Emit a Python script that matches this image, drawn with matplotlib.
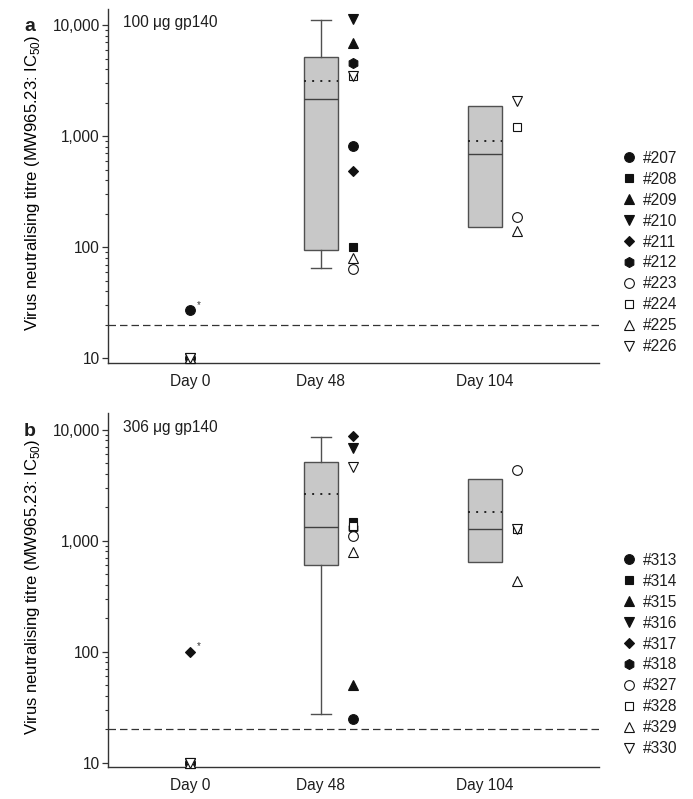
import numpy as np
import matplotlib.pyplot as plt
from matplotlib.ticker import FixedLocator, FuncFormatter, LogLocator, NullFormatter

plt.rcParams['font.family'] = 'Liberation Sans'
plt.rcParams['mathtext.fontset'] = 'custom'
plt.rcParams['mathtext.rm'] = 'Liberation Sans'
plt.rcParams['text.color'] = '#1e1e1e'
plt.rcParams['ytick.labelcolor'] = '#1e1e1e'
plt.rcParams['xtick.labelcolor'] = '#1e1e1e'

nan = np.nan

days = ["Day 0", "Day 48", "Day 104"]
detection_limit = 20

# panel a: 100 ug gp140
ids_a = ["#207", "#208", "#209", "#210", "#211", "#212", "#223", "#224", "#225", "#226"]
day0_a = [27, 10, 10, 10, 10, 10, 10, 10, 10, 10]
day48_a = [815, 100, 6980, 11500, 485, 4580, 64, 3500, 80, 3480]
day104_a = [nan, nan, nan, nan, nan, nan, 186, 1200, 140, 2080]

# panel b: 306 ug gp140
ids_b = ["#313", "#314", "#315", "#316", "#317", "#318", "#327", "#328", "#329", "#330"]
day0_b = [10, 10, 10, 10, 100, 10, 10, 10, 10, 10]
day48_b = [24.8, 1470, 50, 6790, 8710, 1290, 1100, 1340, 787, 4580]
day104_b = [nan, nan, nan, nan, nan, nan, 4340, 1260, 431, 1260]

markers = ['o', 's', '^', 'v', 'D', 'h', 'o', 's', '^', 'v']
filled = [True] * 6 + [False] * 4
msize = {'o': 7.0, 's': 6.2, '^': 7.0, 'v': 7.0, 'D': 5.3, 'h': 7.2}

XPOS = [1, 2, 3.25]
PT_OFF = 0.245
BOX_W = 0.26
FS = 11.2


def draw_panel(ax, ids, cols, title, letter, legend_y):
    # boxes for the post-immunisation days
    for i in (1, 2):
        v = np.array(cols[i], dtype=float)
        v = v[~np.isnan(v)]
        p10, q1, med, q3, p90 = np.percentile(v, [10, 25, 50, 75, 90], method='weibull')
        whisk = len(v) >= 9
        st = dict(med=med, q1=q1, q3=q3, mean=v.mean(), fliers=[],
                  whislo=p10 if whisk else q1, whishi=p90 if whisk else q3)
        ax.bxp([st], positions=[XPOS[i]], widths=BOX_W, showmeans=True, meanline=True,
               patch_artist=True, showcaps=whisk, capwidths=0.155, manage_ticks=False,
               boxprops=dict(facecolor='#c8c8c8', edgecolor='#505050', linewidth=1.0),
               medianprops=dict(color='#404040', linewidth=1.0),
               meanprops=dict(color='#222222', linestyle=(0, (1, 3.2)), linewidth=1.4),
               whiskerprops=dict(color='#505050', linewidth=1.0),
               capprops=dict(color='#505050', linewidth=1.0))

    xs = [XPOS[0], XPOS[1] + PT_OFF, XPOS[2] + PT_OFF]
    for k, name in enumerate(ids):
        ys = [cols[0][k], cols[1][k], cols[2][k]]
        m = markers[k]
        ax.plot(xs, ys, linestyle='none', marker=m, markersize=msize[m],
                markerfacecolor='#111111' if filled[k] else 'white',
                markeredgecolor='#111111', markeredgewidth=0.8,
                label=name, zorder=4 if filled[k] else 5, clip_on=False)
        if cols[0][k] > detection_limit:
            ax.annotate('*', (xs[0], cols[0][k]), xytext=(5, 2), textcoords='offset points',
                        fontsize=7, color='#333333')

    ax.axhline(detection_limit, color='#333333', linewidth=0.9, linestyle=(0, (6, 3.2)), zorder=1)

    ax.set_yscale('log')
    ax.set_ylim(9.08, 14000)
    ax.set_xlim(0.374, 4.122)
    ax.yaxis.set_major_locator(FixedLocator([10, 100, 1000, 10000]))
    ax.yaxis.set_major_formatter(FuncFormatter(lambda v, p: f"{int(round(v)):,}"))
    ax.yaxis.set_minor_locator(LogLocator(base=10, subs=np.arange(2, 10)))
    ax.yaxis.set_minor_formatter(NullFormatter())
    ax.set_xticks(XPOS)
    ax.set_xticklabels(days, fontsize=FS)
    ax.tick_params(axis='x', length=0, pad=8)
    ax.tick_params(axis='y', which='major', length=4, width=0.9, labelsize=FS, pad=2, color='#333333')
    ax.tick_params(axis='y', which='minor', length=2.5, width=0.8, color='#333333')
    for s in ('top', 'right'):
        ax.spines[s].set_visible(False)
    for s in ('left', 'bottom'):
        ax.spines[s].set_color('#333333')
        ax.spines[s].set_linewidth(1.0)

    ax.set_ylabel(r"Virus neutralising titre (MW965.23: IC$_{\mathregular{50}}$)", fontsize=12)
    ax.yaxis.set_label_coords(-0.135, 0.51)
    ax.text(0.031, 0.961, title, transform=ax.transAxes, fontsize=FS, va='center', ha='left')
    ax.text(-0.16, 0.95, letter, transform=ax.transAxes, fontsize=14, fontweight='bold',
            va='center', ha='center')

    ax.legend(loc='center left', bbox_to_anchor=(620 / 693, legend_y),
              bbox_transform=ax.figure.transFigure, frameon=False, fontsize=FS,
              handlelength=1.1, handletextpad=0.4, borderpad=0, borderaxespad=0,
              labelspacing=0.38, markerscale=1.0)


fig = plt.figure(figsize=(6.93, 7.99), dpi=100)
ax_a = fig.add_axes([0.1558, 0.5457, 0.7085, 0.443])
ax_b = fig.add_axes([0.1558, 0.0397, 0.7085, 0.443])

draw_panel(ax_a, ids_a, [day0_a, day48_a, day104_a], "100 \u03bcg gp140", "a", 1 - 252.5 / 799)
draw_panel(ax_b, ids_b, [day0_b, day48_b, day104_b], "306 \u03bcg gp140", "b", 1 - 654.5 / 799)

fig.savefig("out.png", dpi=100)
